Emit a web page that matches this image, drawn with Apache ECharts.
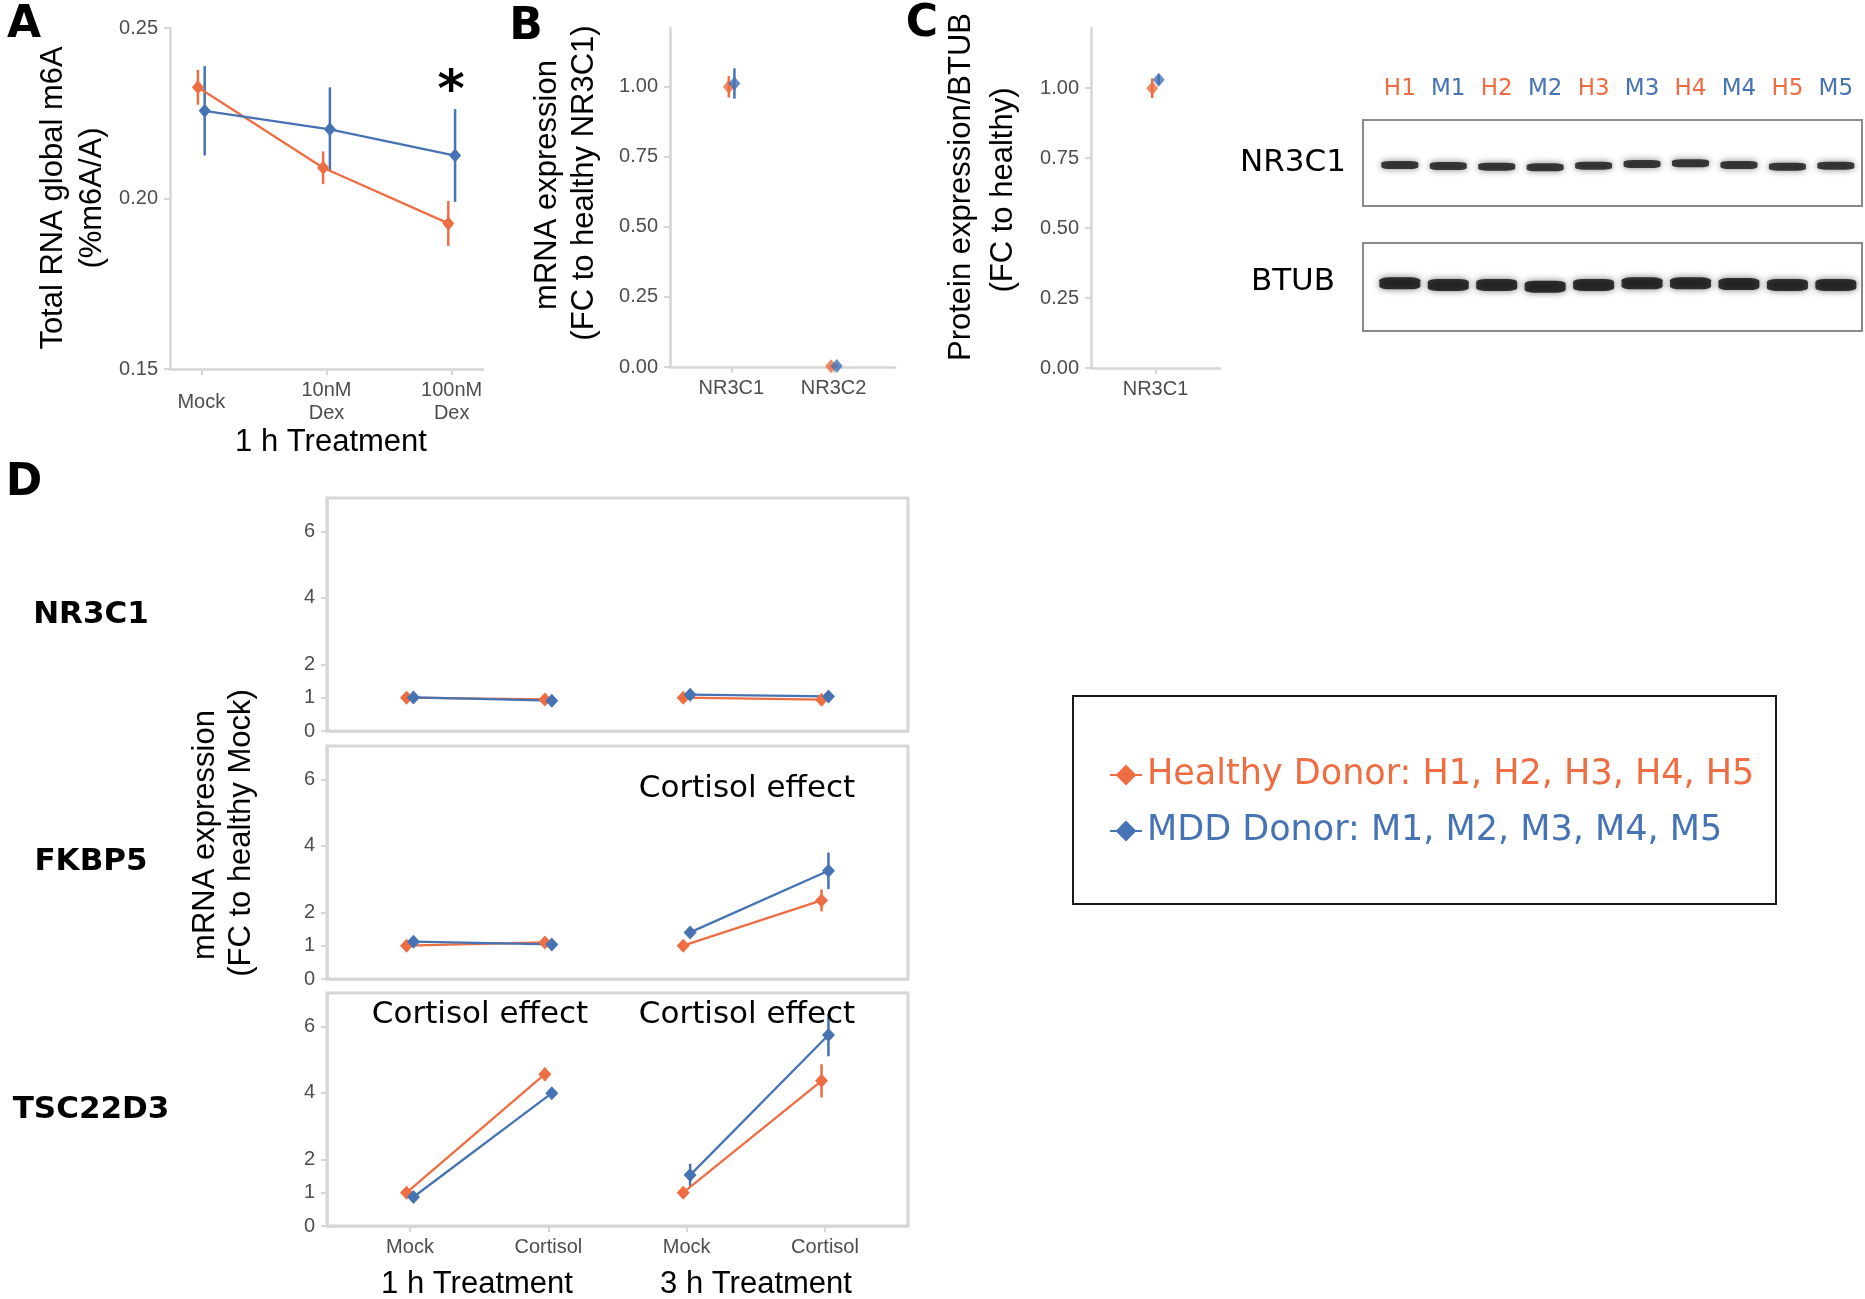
<!DOCTYPE html>
<html><head><meta charset="utf-8">
<script src="https://cdn.jsdelivr.net/npm/echarts@6/dist/echarts.min.js"></script>
<style>html,body{margin:0;padding:0;background:#fff}#c{width:1865px;height:1299px}</style>
</head><body><div id="c"></div>
<script>
// ---------------- DATA ----------------
const HN = 'Healthy Donor: H1, H2, H3, H4, H5';
const MN = 'MDD Donor: M1, M2, M3, M4, M5';

// Panel A: total RNA global m6A, 1 h treatment
const aCats = ['Mock', '10nM\nDex', '100nM\nDex'];
const aHealthy = [0.2326, 0.2090, 0.1927];
const aHealthyErr = [0.0051, 0.0048, 0.0066];
const aMdd = [0.2257, 0.2203, 0.2126];
const aMddErr = [0.0131, 0.0123, 0.0136];
const aYTicks = [0.15, 0.20, 0.25];

// Panel B: mRNA expression (FC to healthy NR3C1)
const bCats = ['NR3C1', 'NR3C2'];
const bHealthy = [1.000, 0.003];
const bHealthyErr = [0.038, 0.004];
const bMdd = [1.012, 0.004];
const bMddErr = [0.054, 0.005];

// Panel C: protein expression / BTUB
const cCats = ['NR3C1'];
const cHealthy = [1.000];
const cHealthyErr = [0.035];
const cMdd = [1.030];
const cMddErr = [0.018];
const bcYTicks = [0, 0.25, 0.5, 0.75, 1.0];

// Western blot lanes (band migration, fraction of box height from bottom)
const lanes = ['H1', 'M1', 'H2', 'M2', 'H3', 'M3', 'H4', 'M4', 'H5', 'M5'];
const nr3c1Band = [0.477, 0.465, 0.457, 0.450, 0.469, 0.488, 0.497, 0.477, 0.457, 0.469];
const btubBand = [0.542, 0.523, 0.523, 0.503, 0.523, 0.542, 0.542, 0.534, 0.523, 0.523];
const blotRows = ['NR3C1', 'BTUB'];

// Panel D: mRNA expression (FC to healthy Mock)
const dCats = ['Mock', 'Cortisol', 'Mock', 'Cortisol'];
const dTreat = ['1 h Treatment', '3 h Treatment'];
const dGenes = ['NR3C1', 'FKBP5', 'TSC22D3'];
const dHealthy = [[1.00, 0.95, 1.00, 0.94], [1.00, 1.10, 1.00, 2.36], [1.00, 4.56, 1.00, 4.36]];
const dHealthyErr = [[0.03, 0.03, 0.03, 0.04], [0.03, 0.05, 0.03, 0.33], [0.05, 0.20, 0.04, 0.50]];
const dMdd = [[1.01, 0.91, 1.09, 1.04], [1.12, 1.04, 1.40, 3.25], [0.87, 3.99, 1.53, 5.74]];
const dMddErr = [[0.03, 0.03, 0.04, 0.03], [0.04, 0.04, 0.05, 0.55], [0.08, 0.10, 0.34, 0.64]];
const dYTicks = [0, 1, 2, 4, 6];
const dAnnot = [[], ['', 'Cortisol effect'], ['Cortisol effect', 'Cortisol effect']];

// ---------------- STYLE ----------------
const ORANGE = '#EF6D42';
const BLUE = '#4673B3';
const AX = '#D6D6D6';
const TICKTXT = '#4D4D4D';
const SANS = "'Liberation Sans', Arial, sans-serif";
const DV = "'DejaVu Sans', sans-serif";

const chart = echarts.init(document.getElementById('c'), null, {renderer: 'canvas'});

const grids = [
  {left: 170, top: 28, width: 313, height: 341},    // 0 A
  {left: 670, top: 28, width: 225, height: 339},    // 1 B
  {left: 1091, top: 28, width: 129, height: 340},   // 2 C
  {left: 1363, top: 120, width: 499, height: 86, show: true, borderColor: '#8a8a8a', borderWidth: 2},  // 3 blot NR3C1
  {left: 1363, top: 243, width: 499, height: 88, show: true, borderColor: '#8a8a8a', borderWidth: 2},  // 4 blot BTUB
  {left: 327, top: 498, width: 581, height: 233, show: true, borderColor: AX, borderWidth: 3},  // 5 D1
  {left: 327, top: 746, width: 581, height: 233, show: true, borderColor: AX, borderWidth: 3},  // 6 D2
  {left: 327, top: 993, width: 581, height: 233, show: true, borderColor: AX, borderWidth: 3}   // 7 D3
].map(g => Object.assign({outerBoundsMode: 'none', containLabel: false}, g));

const axLine = {show: true, lineStyle: {color: AX, width: 2.5}};
function tick(vals) { return {show: true, length: 6, lineStyle: {color: AX, width: 2}, customValues: vals}; }
function lab(vals, fmt, extra) {
  return Object.assign({show: true, customValues: vals, formatter: fmt, color: TICKTXT,
    fontSize: 20, fontFamily: SANS}, extra || {});
}

const xAxes = [
  {gridIndex: 0, type: 'value', min: 0.75, max: 3.25, axisLine: axLine, axisTick: tick([1, 2, 3]),
   axisLabel: lab([1, 2, 3], v => aCats[Math.round(v) - 1], {verticalAlign: 'middle', margin: 33, lineHeight: 23}), splitLine: {show: false}},
  {gridIndex: 1, type: 'value', min: 0.4, max: 2.6, axisLine: axLine, axisTick: tick([1, 2]),
   axisLabel: lab([1, 2], v => bCats[Math.round(v) - 1], {verticalAlign: 'middle', margin: 21}), splitLine: {show: false}},
  {gridIndex: 2, type: 'value', min: 0.4, max: 1.6, axisLine: axLine, axisTick: tick([1]),
   axisLabel: lab([1], v => cCats[Math.round(v) - 1], {verticalAlign: 'middle', margin: 21}), splitLine: {show: false}},
  {gridIndex: 3, type: 'value', position: 'top', min: 0.24, max: 10.54, axisLine: {show: false}, axisTick: {show: false},
   axisLabel: {show: true, customValues: lanes.map((l, i) => i + 1), margin: 31, verticalAlign: 'middle',
     formatter: v => { const s = lanes[Math.round(v) - 1]; return '{' + (s[0] === 'H' ? 'h' : 'm') + '|' + s + '}'; },
     rich: {h: {color: ORANGE, fontSize: 23, fontFamily: DV}, m: {color: BLUE, fontSize: 23, fontFamily: DV}}},
   splitLine: {show: false}},
  {gridIndex: 4, type: 'value', min: 0.24, max: 10.54, show: false},
  {gridIndex: 5, type: 'value', min: 0.4, max: 4.6, axisLine: axLine, axisTick: {show: false}, axisLabel: {show: false}, splitLine: {show: false}},
  {gridIndex: 6, type: 'value', min: 0.4, max: 4.6, axisLine: axLine, axisTick: {show: false}, axisLabel: {show: false}, splitLine: {show: false}},
  {gridIndex: 7, type: 'value', min: 0.4, max: 4.6, axisLine: axLine, axisTick: tick([1, 2, 3, 4]),
   axisLabel: lab([1, 2, 3, 4], v => dCats[Math.round(v) - 1], {verticalAlign: 'middle', margin: 21}), splitLine: {show: false}}
];

const yAxes = [
  {gridIndex: 0, type: 'value', min: 0.15, max: 0.25, axisLine: axLine, axisTick: tick(aYTicks),
   axisLabel: lab(aYTicks, v => v.toFixed(2), {margin: 12}), splitLine: {show: false}},
  {gridIndex: 1, type: 'value', min: 0, max: 1.21, axisLine: axLine, axisTick: tick(bcYTicks),
   axisLabel: lab(bcYTicks, v => v.toFixed(2), {margin: 12}), splitLine: {show: false}},
  {gridIndex: 2, type: 'value', min: 0, max: 1.215, axisLine: axLine, axisTick: tick(bcYTicks),
   axisLabel: lab(bcYTicks, v => v.toFixed(2), {margin: 12}), splitLine: {show: false}},
  {gridIndex: 3, type: 'value', min: 0, max: 1, show: false},
  {gridIndex: 4, type: 'value', min: 0, max: 1, show: false}
];
for (let g = 0; g < 3; g++) {
  yAxes.push({gridIndex: 5 + g, type: 'value', min: 0, max: 7, axisLine: axLine, axisTick: tick(dYTicks),
    axisLabel: lab(dYTicks, v => String(v), {margin: 12}), splitLine: {show: false}});
}

// ---------------- SERIES ----------------
const series = [];
function pointSeries(name, gi, pts, color, withLine, size) {
  series.push({
    type: withLine ? 'line' : 'scatter', name, xAxisIndex: gi, yAxisIndex: gi, data: pts,
    symbol: 'diamond', symbolSize: size || [12, 14], itemStyle: {color},
    lineStyle: {color, width: 2.3}, z: 3, silent: true, animation: false, emphasis: {disabled: true}
  });
}
function errSeries(gi, pts, color) {
  series.push({
    type: 'custom', name: 'err', xAxisIndex: gi, yAxisIndex: gi, data: pts, encode: {x: 0, y: [1, 2]},
    z: 2, silent: true, animation: false,
    renderItem: (params, api) => {
      const p1 = api.coord([api.value(0), api.value(1)]);
      const p2 = api.coord([api.value(0), api.value(2)]);
      return {type: 'line', shape: {x1: p1[0], y1: p1[1], x2: p2[0], y2: p2[1]},
        style: {stroke: color, lineWidth: 2.5}};
    }
  });
}
function group(gi, vals, errs, off, name, color, withLine) {
  const pts = vals.map((v, i) => [i + 1 + off, v]);
  errSeries(gi, vals.map((v, i) => [i + 1 + off, v - errs[i], v + errs[i]]), color);
  pointSeries(name, gi, pts, color, withLine);
}

// A
group(0, aHealthy, aHealthyErr, -0.027, HN, ORANGE, true);
group(0, aMdd, aMddErr, 0.027, MN, BLUE, true);
// B
group(1, bHealthy, bHealthyErr, -0.025, HN, ORANGE, false);
group(1, bMdd, bMddErr, 0.03, MN, BLUE, false);
// C
group(2, cHealthy, cHealthyErr, -0.03, HN, ORANGE, false);
group(2, cMdd, cMddErr, 0.03, MN, BLUE, false);

// Blot bands
series.push({type: 'scatter', name: 'NR3C1 band', xAxisIndex: 3, yAxisIndex: 3, silent: true, animation: false,
  data: nr3c1Band.map((y, i) => [i + 1, y]), symbol: 'roundRect', symbolSize: [37, 8],
  itemStyle: {color: '#141414', shadowBlur: 7, shadowColor: 'rgba(0,0,0,0.6)'}});
series.push({type: 'scatter', name: 'BTUB band', xAxisIndex: 4, yAxisIndex: 4, silent: true, animation: false,
  data: btubBand.map((y, i) => [i + 1, y]), symbol: 'roundRect', symbolSize: [41, 12],
  itemStyle: {color: '#0a0a0a', shadowBlur: 7, shadowColor: 'rgba(0,0,0,0.65)'}});

// D
for (let g = 0; g < 3; g++) {
  const gi = 5 + g;
  [[dHealthy[g], dHealthyErr[g], -0.025, HN, ORANGE], [dMdd[g], dMddErr[g], 0.025, MN, BLUE]].forEach(([vals, errs, off, name, color]) => {
    errSeries(gi, vals.map((v, i) => [i + 1 + off, v - errs[i], v + errs[i]]), color);
    for (let t = 0; t < 2; t++) {
      pointSeries(name, gi, [[2 * t + 1 + off, vals[2 * t]], [2 * t + 2 + off, vals[2 * t + 1]]], color, true, [13, 14]);
    }
  });
}

// ---------------- TEXT / GRAPHIC ----------------
function txt(x, y, text, o) {
  o = o || {};
  return {type: 'text', x, y, rotation: o.rot || 0, silent: true, z: 10,
    style: {text, fill: o.color || '#000', fontSize: o.size || 31, fontFamily: o.font || SANS,
      fontWeight: o.weight || 'normal', align: o.align || 'center', verticalAlign: 'middle',
      textAlign: o.align || 'center', textVerticalAlign: 'middle'}};
}
const R = Math.PI / 2;
const graphics = [
  // panel letters
  txt(24, 26, 'A', {size: 44, weight: 'bold', font: DV}),
  txt(526, 28, 'B', {size: 44, weight: 'bold', font: DV}),
  txt(922, 25, 'C', {size: 44, weight: 'bold', font: DV}),
  txt(24, 484, 'D', {size: 44, weight: 'bold', font: DV}),
  // A titles
  txt(53, 198, 'Total RNA global m6A', {rot: R}),
  txt(92, 198, '(%m6A/A)', {rot: R}),
  txt(331, 442, '1 h Treatment'),
  txt(451, 92, '*', {size: 52, weight: 'bold', font: DV}),
  // B titles
  txt(547, 185, 'mRNA expression', {rot: R}),
  txt(584, 183, '(FC to healthy NR3C1)', {rot: R}),
  // C titles
  txt(961, 187, 'Protein expression/BTUB', {rot: R}),
  txt(1003, 190, '(FC to healthy)', {rot: R}),
  // blot row labels
  txt(1293, 163, blotRows[0], {font: DV}),
  txt(1293, 282, blotRows[1], {font: DV}),
  // D
  txt(205, 835, 'mRNA expression', {rot: R}),
  txt(241, 833, '(FC to healthy Mock)', {rot: R}),
  txt(477, 1284, dTreat[0]),
  txt(756, 1284, dTreat[1]),
  // legend box
  {type: 'rect', shape: {x: 1073, y: 696, width: 703, height: 208}, silent: true,
   style: {fill: 'none', stroke: '#1a1a1a', lineWidth: 2}}
];
const geneY = [615, 862, 1110];
dGenes.forEach((g, i) => graphics.push(txt(91, geneY[i], g, {font: DV, weight: 'bold', size: 31})));
const annotY = [0, 789, 1015];
const annotX = [480, 747];
dAnnot.forEach((arr, g) => arr.forEach((s, j) => { if (s) graphics.push(txt(annotX[j], annotY[g], s, {font: DV, size: 31})); }));

chart.setOption({
  animation: false,
  backgroundColor: '#fff',
  grid: grids,
  xAxis: xAxes,
  yAxis: yAxes,
  series,
  legend: {
    data: [{name: HN, textStyle: {color: ORANGE}}, {name: MN, textStyle: {color: BLUE}}],
    orient: 'vertical', left: 1104, top: 750, itemWidth: 32, itemHeight: 26, itemGap: 16,
    itemTextGap: 18, selectedMode: false,
    textStyle: {fontSize: 35, fontFamily: DV, lineHeight: 40}
  },
  graphic: graphics
});
</script></body></html>
